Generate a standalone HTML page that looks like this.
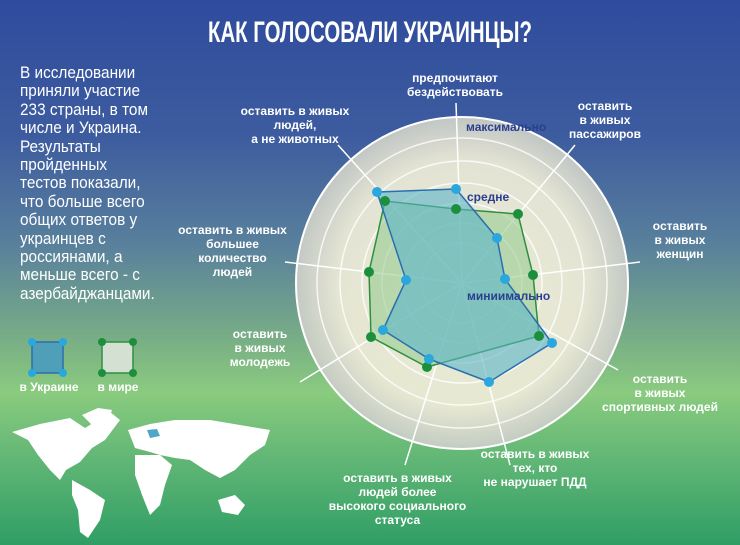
<!DOCTYPE html>
<html><head><meta charset="utf-8"><style>
body{margin:0;width:740px;height:545px;overflow:hidden;font-family:"Liberation Sans",sans-serif;}
.bg{position:absolute;left:0;top:0;width:740px;height:545px;background:linear-gradient(180deg,#2f4b9d 0%,#3d5c9f 25%,#59809c 45%,#78ad86 62%,#8acb7f 72%,#5fb575 85%,#2f9e64 100%);}
.t{position:absolute;color:#fff;font-weight:bold;font-size:12px;line-height:14px;text-align:center;white-space:nowrap;}
</style></head><body>
<div class="bg"></div>
<div style="position:absolute;left:70px;top:16px;width:600px;text-align:center;color:#fff;font-weight:bold;font-size:30px;transform:scaleX(0.68);white-space:nowrap;">КАК ГОЛОСОВАЛИ УКРАИНЦЫ?</div>
<div style="position:absolute;left:20px;top:64px;color:#fff;font-size:16.5px;line-height:18.4px;white-space:nowrap;transform:scaleX(0.93);transform-origin:0 0;">В исследовании<br>приняли участие<br>233 страны, в том<br>числе и Украина.<br>Результаты<br>пройденных<br>тестов показали,<br>что больше всего<br>общих ответов у<br>украинцев с<br>россиянами, а<br>меньше всего - с<br>азербайджанцами.</div>
<svg style="position:absolute;left:0;top:0" width="740" height="545">
<defs><radialGradient id="rg"><stop offset="0" stop-color="#f2f0dc"/><stop offset="0.75" stop-color="#ebe9d6"/><stop offset="1" stop-color="#c8ccc6"/></radialGradient></defs>
<circle cx="462" cy="283" r="166" fill="url(#rg)" opacity="0.95"/>
<circle cx="462" cy="283" r="166" fill="none" stroke="#fff" stroke-width="2"/>
<g fill="none" stroke="#fff" stroke-opacity="0.8" stroke-width="1.5">
<circle cx="462" cy="283" r="145"/><circle cx="462" cy="283" r="122"/><circle cx="462" cy="283" r="100"/><circle cx="462" cy="283" r="80"/><circle cx="462" cy="283" r="60"/><circle cx="462" cy="283" r="40"/>
</g>
<g stroke="#fff" stroke-width="1.5">
<line x1="462" y1="283" x2="456" y2="103"/>
<line x1="462" y1="283" x2="575" y2="145"/>
<line x1="462" y1="283" x2="640" y2="262"/>
<line x1="462" y1="283" x2="618" y2="370"/>
<line x1="462" y1="283" x2="510" y2="465"/>
<line x1="462" y1="283" x2="405" y2="465"/>
<line x1="462" y1="283" x2="300" y2="382"/>
<line x1="462" y1="283" x2="285" y2="262"/>
<line x1="462" y1="283" x2="338" y2="145"/>
</g>
<polygon points="456,209 518,214 533,275 539,336 427,367 371,337 369,272 385,201" fill="#8fc98a" fill-opacity="0.55" stroke="#2e8f3e" stroke-width="1.5" stroke-linejoin="round"/>
<polygon points="456,189 497,238 505,279 552,343 489,382 429,359 383,330 406,280 377,192" fill="#5ab4c8" fill-opacity="0.6" stroke="#2a6fb0" stroke-width="1.5" stroke-linejoin="round"/>
<g fill="#1b8f3c"><circle cx="456" cy="209" r="5"/><circle cx="518" cy="214" r="5"/><circle cx="533" cy="275" r="5"/><circle cx="539" cy="336" r="5"/><circle cx="427" cy="367" r="5"/><circle cx="371" cy="337" r="5"/><circle cx="369" cy="272" r="5"/><circle cx="385" cy="201" r="5"/></g>
<g fill="#2aa7dc"><circle cx="456" cy="189" r="5"/><circle cx="497" cy="238" r="5"/><circle cx="505" cy="279" r="5"/><circle cx="552" cy="343" r="5"/><circle cx="489" cy="382" r="5"/><circle cx="429" cy="359" r="5"/><circle cx="383" cy="330" r="5"/><circle cx="406" cy="280" r="5"/><circle cx="377" cy="192" r="5"/></g>
<g font-family="Liberation Sans" font-weight="bold" font-size="12" fill="#2a3f8f">
<text x="466" y="131">максимально</text><text x="467" y="201">средне</text><text x="467" y="300">миниимально</text></g>
<rect x="32" y="342" width="31" height="31" fill="#4f9fb8" stroke="#2a6fb0" stroke-width="1.5"/>
<g fill="#2aa7dc"><circle cx="32" cy="342" r="4"/><circle cx="63" cy="342" r="4"/><circle cx="32" cy="373" r="4"/><circle cx="63" cy="373" r="4"/></g>
<rect x="102" y="342" width="31" height="31" fill="#d4e0d2" stroke="#2e8f3e" stroke-width="1.5"/>
<g fill="#1b8f3c"><circle cx="102" cy="342" r="4"/><circle cx="133" cy="342" r="4"/><circle cx="102" cy="373" r="4"/><circle cx="133" cy="373" r="4"/></g>
<g fill="#fff">
<path d="M12,432 L40,424 L70,418 L85,428 L98,420 L110,412 L120,420 L105,440 L92,448 L80,462 L66,470 L60,480 L50,470 L38,455 L28,440 Z"/>
<path d="M82,415 L98,408 L112,410 L108,422 L95,428 Z"/>
<path d="M72,480 L90,490 L105,500 L100,520 L88,538 L80,532 L78,510 L72,495 Z"/>
<path d="M128,430 L150,424 L175,420 L210,420 L240,425 L270,430 L265,445 L250,455 L235,470 L220,478 L205,470 L190,460 L175,458 L160,455 L150,452 L135,448 Z"/>
<path d="M135,455 L160,455 L172,465 L165,485 L160,505 L150,515 L142,495 L135,475 Z"/>
<path d="M218,500 L235,495 L245,505 L238,515 L222,512 Z"/>
</g>
<path d="M147,430 L157,429 L160,436 L150,438 Z" fill="#4fa6c6"/>
</svg>
<div class="t" style="left:14px;top:380px;width:70px">в Украине</div>
<div class="t" style="left:88px;top:380px;width:60px">в мире</div>
<div class="t" style="left:390px;top:71px;width:130px">предпочитают<br>бездействовать</div>
<div class="t" style="left:235px;top:104px;width:120px">оставить в живых<br>людей,<br>а не животных</div>
<div class="t" style="left:560px;top:99px;width:90px">оставить<br>в живых<br>пассажиров</div>
<div class="t" style="left:630px;top:219px;width:100px">оставить<br>в живых<br>женщин</div>
<div class="t" style="left:170px;top:223px;width:125px">оставить в живых<br>большее<br>количество<br>людей</div>
<div class="t" style="left:215px;top:327px;width:90px">оставить<br>в живых<br>молодежь</div>
<div class="t" style="left:600px;top:372px;width:120px">оставить<br>в живых<br>спортивных людей</div>
<div class="t" style="left:470px;top:447px;width:130px">оставить в живых<br>тех, кто<br>не нарушает ПДД</div>
<div class="t" style="left:320px;top:471px;width:155px">оставить в живых<br>людей более<br>высокого социального<br>статуса</div>
</body></html>
